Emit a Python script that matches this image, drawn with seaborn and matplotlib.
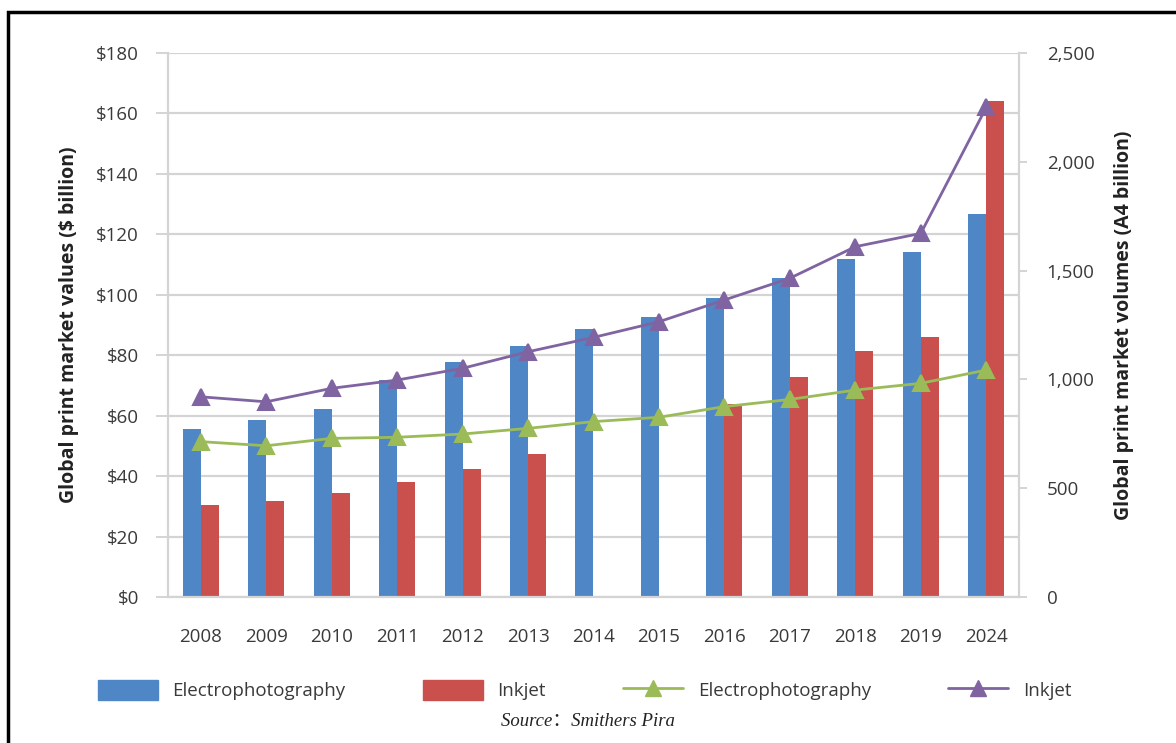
import numpy as np
import pandas as pd
import matplotlib
matplotlib.use("Agg")
import matplotlib.pyplot as plt
import seaborn as sns
from matplotlib.patches import Patch, Rectangle
from matplotlib.lines import Line2D

# data
years = ["2008", "2009", "2010", "2011", "2012", "2013", "2014",
         "2015", "2016", "2017", "2018", "2019", "2024"]
value_electro = [55.6, 58.6, 62.2, 71.8, 77.9, 83.2, 88.7, 92.8, 98.9, 105.5, 111.7, 114.3, 126.7]
value_inkjet = [30.4, 31.8, 34.3, 38.0, 42.3, 47.2, np.nan, np.nan, 63.9, 72.9, 81.5, 85.9, 164.2]
volume_electro = [714, 695, 729, 734, 749, 775, 806, 826, 875, 908, 951, 982, 1043]
volume_inkjet = [920, 897, 959, 997, 1051, 1127, 1193, 1265, 1365, 1465, 1610, 1671, 2250]

left_ticks = list(range(0, 181, 20))
left_labels = ["$" + str(v) for v in left_ticks]
right_ticks = [0, 500, 1000, 1500, 2000, 2500]
right_labels = ["0", "500", "1,000", "1,500", "2,000", "2,500"]

blue = "#4F86C6"
red = "#C9504D"
green = "#9BBB59"
purple = "#8064A2"
grid_col = "#D4D4D4"
txt_col = "#3A3A3A"

sns.set_style("white")
plt.rcParams["font.family"] = ["Open Sans", "DejaVu Sans"]

bars = pd.DataFrame({
    "year": years * 2,
    "value": value_electro + value_inkjet,
    "tech": ["Electrophotography"] * len(years) + ["Inkjet"] * len(years),
})
lines = pd.DataFrame({
    "year": years * 2,
    "volume": volume_electro + volume_inkjet,
    "tech": ["Electrophotography"] * len(years) + ["Inkjet"] * len(years),
})

fig = plt.figure(figsize=(11.76, 7.43), dpi=100)
ax = fig.add_axes([168 / 1176, 1 - 597 / 743, (1019 - 168) / 1176, (597 - 53) / 743])

sns.barplot(data=bars, x="year", y="value", hue="tech", order=years,
            palette=[blue, red], saturation=1, width=0.55, gap=0,
            linewidth=0, edgecolor="none", legend=False, ax=ax)
ax.set_ylim(0, 180)
ax.set_yticks(left_ticks)
ax.set_yticklabels(left_labels)
ax.set_xlim(-0.5, len(years) - 0.5)
ax.yaxis.grid(True, color=grid_col, lw=1.6)
ax.set_axisbelow(True)
ax.set_xlabel("")
ax.set_ylabel("Global print market values ($ billion)", fontsize=14,
              fontweight="bold", color="#222222", labelpad=12)

# x ticks on category boundaries, labels in between
ax.set_xticks(np.arange(len(years)) - 0.5, minor=False)
ax.set_xticklabels([])
ax.set_xticks(np.arange(len(years)), minor=True)
ax.set_xticklabels(years, minor=True, fontsize=13.5, color=txt_col)
ax.tick_params(axis="x", which="major", length=8, width=1.4, color=grid_col, direction="out")
ax.tick_params(axis="x", which="minor", length=0, pad=22)
ax.tick_params(axis="y", length=9, width=1.4, color=grid_col, labelsize=13.5,
               labelcolor=txt_col, pad=12)

for side in ["top", "right"]:
    ax.spines[side].set_visible(False)
for side in ["left", "bottom"]:
    ax.spines[side].set_color(grid_col)
    ax.spines[side].set_linewidth(1.6)

ax2 = ax.twinx()
sns.pointplot(data=lines, x="year", y="volume", hue="tech", order=years,
              palette=[green, purple], markers=["^", "^"], linestyles=["-", "-"],
              errorbar=None, legend=False, markersize=11, linewidth=2, ax=ax2)
ax2.set_ylim(0, 2500)
ax2.set_yticks(right_ticks)
ax2.set_yticklabels(right_labels)
ax2.set_xlim(-0.5, len(years) - 0.5)
ax2.set_xlabel("")
ax2.set_ylabel("Global print market volumes (A4 billion)", fontsize=14,
               fontweight="bold", color="#222222", labelpad=14)
ax2.tick_params(axis="y", length=6, width=1.4, color=grid_col, labelsize=13.5,
                labelcolor=txt_col, pad=14)
for side in ["top", "left", "bottom"]:
    ax2.spines[side].set_visible(False)
ax2.spines["right"].set_color(grid_col)
ax2.spines["right"].set_linewidth(1.6)

handles = [
    Patch(facecolor=blue, edgecolor=blue),
    Patch(facecolor=red, edgecolor=red),
    Line2D([0], [0], color=green, lw=2, marker="^", markersize=11),
    Line2D([0], [0], color=purple, lw=2, marker="^", markersize=11),
]
labels = ["Electrophotography", "Inkjet", "Electrophotography", "Inkjet"]
fig.legend(handles, labels, loc="center", bbox_to_anchor=(0.497, 1 - 690 / 743),
           ncol=4, frameon=False, fontsize=13.5, handlelength=3.2,
           handleheight=1.3, columnspacing=4.1, handletextpad=0.8,
           labelcolor=txt_col)

fig.text(0.5, 1 - 722 / 743, "Source：Smithers Pira", ha="center", va="center",
         fontsize=13.5, style="italic",
         family=["Liberation Serif", "Noto Sans CJK SC"], color="#222222")

# outer frame
fig.patches.append(Rectangle((8 / 1176, -0.05), 1.2, 1 - 12 / 743 + 0.05,
                             transform=fig.transFigure, fill=False,
                             edgecolor="black", lw=2.5))

fig.savefig("out.png", dpi=100)
